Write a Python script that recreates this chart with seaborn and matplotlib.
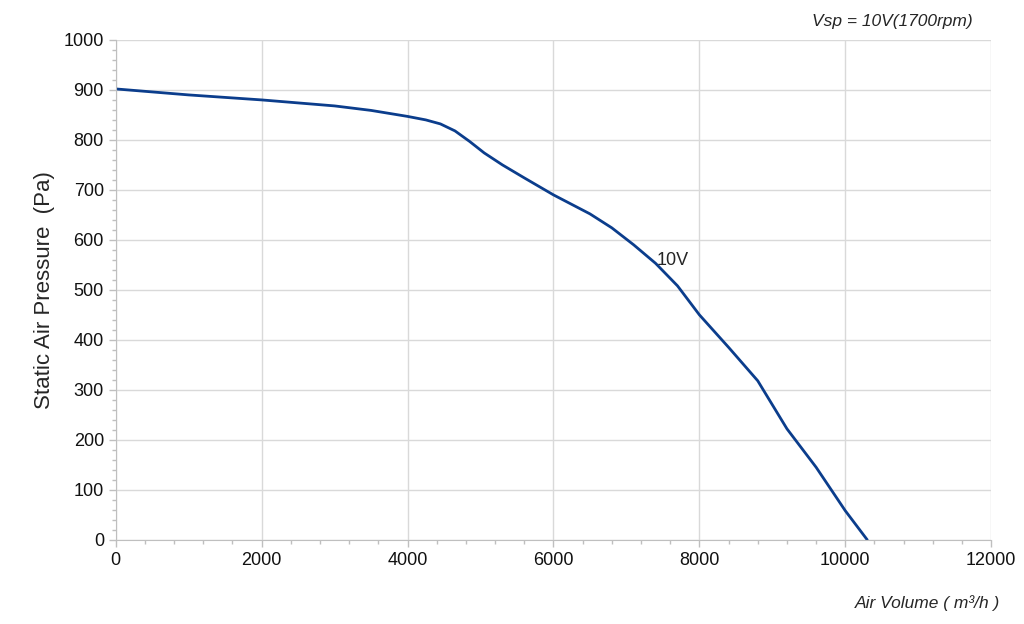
import matplotlib
matplotlib.use("Agg")
import matplotlib.pyplot as plt
import seaborn as sns
import pandas as pd
from matplotlib.ticker import MultipleLocator

air = [0, 1000, 2000, 3000, 3500, 4000, 4250, 4450, 4650, 4850, 5050, 5300, 5600, 6000, 6500, 6800, 7100, 7400, 7700, 8000, 8400, 8800, 9000, 9200, 9600, 10000, 10300]
pres = [902, 890, 880, 868, 859, 847, 840, 832, 818, 797, 774, 750, 724, 690, 652, 624, 590, 553, 508, 450, 385, 318, 270, 222, 145, 58, 0]

sns.set_style("white")
plt.rcParams['font.family'] = ['Liberation Sans', 'DejaVu Sans']
fig, ax = plt.subplots(figsize=(10.24, 6.24), dpi=100)
fig.subplots_adjust(left=0.113, right=0.968, top=0.936, bottom=0.135)
df = pd.DataFrame({"air": air, "p": pres})
sns.lineplot(data=df, x="air", y="p", ax=ax, color="#0b3d8c", linewidth=2)
ax.set_xlim(0, 12000)
ax.set_ylim(0, 1000)
ax.xaxis.set_major_locator(MultipleLocator(2000))
ax.xaxis.set_minor_locator(MultipleLocator(400))
ax.yaxis.set_major_locator(MultipleLocator(100))
ax.yaxis.set_minor_locator(MultipleLocator(20))
ax.grid(True, which="major", color="#d9d9d9", linewidth=1)
for s in ["top", "right"]:
    ax.spines[s].set_visible(False)
for s in ["left", "bottom"]:
    ax.spines[s].set_color("#bfbfbf")
ax.tick_params(which="both", bottom=True, left=True, direction="out")
ax.tick_params(which="major", length=5, width=1, color="#bfbfbf", labelsize=13, labelcolor="#111111")
ax.tick_params(which="minor", length=3, width=1, color="#bfbfbf")
ax.set_xlabel("")
ax.set_ylabel("Static Air Pressure  (Pa)", fontsize=16, labelpad=6)
ax.text(7420, 550, "10V", fontsize=13)
fig.text(0.95, 0.965, "Vsp = 10V(1700rpm)", fontsize=12.5, style="italic", ha="right", va="center")
fig.text(0.977, 0.033, "Air Volume ( m³/h )", fontsize=12.5, style="italic", ha="right", va="center")
fig.savefig("out.png", dpi=100)
